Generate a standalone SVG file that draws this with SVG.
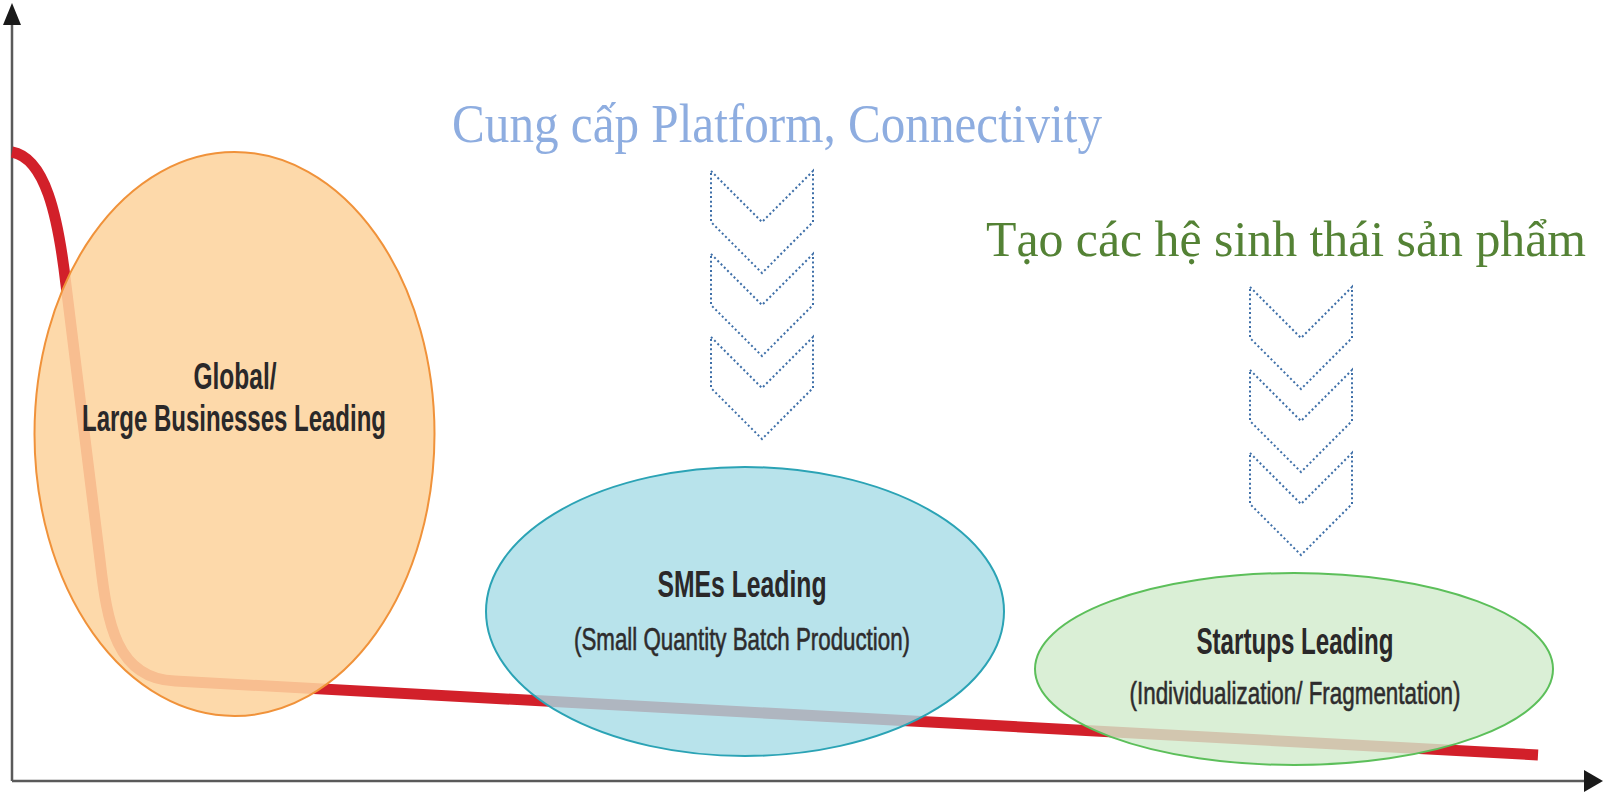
<svg xmlns="http://www.w3.org/2000/svg" xmlns:xlink="http://www.w3.org/1999/xlink" width="1605" height="800" viewBox="0 0 1605 800">
  <style>
    .axis { stroke: #5a5a5a; stroke-width: 2.5; fill: none; }
    .head { fill: #1a1a1a; }
    .title { font-family: "Liberation Sans Narrow", "Liberation Sans", Arial, sans-serif; font-weight: bold; font-size: 37px; fill: #2a2829; text-anchor: middle; }
    .sub { font-family: "Liberation Sans Narrow", "Liberation Sans", Arial, sans-serif; font-size: 31px; fill: #2e2c2d; stroke: #2e2c2d; stroke-width: 0.6; text-anchor: middle; }
    .big { font-family: "Liberation Serif", "Times New Roman", serif; font-size: 54px; }
    .chev { fill: none; stroke: #3e6fa8; stroke-width: 2; stroke-dasharray: 2 2.6; }
  </style>
  <defs>
    <path id="chev" d="M0,0 L51,51 L102,0 L102,51 L51,102 L0,51 Z"/>
  </defs>
  <rect width="1605" height="800" fill="#ffffff"/>

  <g id="axes">
    <line class="axis" x1="12" y1="781" x2="12" y2="20"/>
    <line class="axis" x1="12" y1="781" x2="1586" y2="781"/>
    <polygon class="head" points="12,3 3,25 21,25"/>
    <polygon class="head" points="1603,781 1584,770 1584,792"/>
  </g>

  <g id="connectors">
    <path d="M12,152 C45,158 58,215 66,285 L100,560 C107,622 116,679 175,681 L1538,755" fill="none" stroke="#d2202a" stroke-width="11" stroke-linejoin="round"/>
  </g>

  <g id="node-large">
    <ellipse cx="234.5" cy="434" rx="200" ry="282" fill="#fdd49e" fill-opacity="0.88" stroke="#f0923a" stroke-width="2"/>
    <text class="title" x="235" y="389" textLength="83" lengthAdjust="spacingAndGlyphs">Global/</text>
    <text class="title" x="234" y="431" textLength="304" lengthAdjust="spacingAndGlyphs">Large Businesses Leading</text>
  </g>

  <g id="node-smes">
    <ellipse cx="745" cy="611.5" rx="259" ry="144.5" fill="#a6dce6" fill-opacity="0.8" stroke="#2ba3b5" stroke-width="2"/>
    <text class="title" x="742" y="597" textLength="169" lengthAdjust="spacingAndGlyphs">SMEs Leading</text>
    <text class="sub" x="742" y="650" textLength="336" lengthAdjust="spacingAndGlyphs">(Small Quantity Batch Production)</text>
  </g>

  <g id="node-startups">
    <ellipse cx="1294" cy="669" rx="259" ry="96" fill="#d2ebcd" fill-opacity="0.82" stroke="#5cbf5a" stroke-width="2"/>
    <text class="title" x="1295" y="654" textLength="197" lengthAdjust="spacingAndGlyphs">Startups Leading</text>
    <text class="sub" x="1295" y="704" textLength="331" lengthAdjust="spacingAndGlyphs">(Individualization/ Fragmentation)</text>
  </g>

  <g id="label-platform">
    <text class="big" x="452" y="142" fill="#8eade0" textLength="650" lengthAdjust="spacingAndGlyphs">Cung cấp Platform, Connectivity</text>
  </g>

  <g id="label-ecosystem">
    <text class="big" x="986" y="256" fill="#548235" font-size="51" textLength="600" lengthAdjust="spacingAndGlyphs" style="font-size:51px">Tạo các hệ sinh thái sản phẩm</text>
  </g>

  <g id="chevrons-platform">
    <use xlink:href="#chev" href="#chev" class="chev" transform="translate(711,171)"/>
    <use xlink:href="#chev" href="#chev" class="chev" transform="translate(711,254)"/>
    <use xlink:href="#chev" href="#chev" class="chev" transform="translate(711,337)"/>
  </g>

  <g id="chevrons-ecosystem">
    <use xlink:href="#chev" href="#chev" class="chev" transform="translate(1250,287)"/>
    <use xlink:href="#chev" href="#chev" class="chev" transform="translate(1250,370)"/>
    <use xlink:href="#chev" href="#chev" class="chev" transform="translate(1250,453)"/>
  </g>
</svg>
